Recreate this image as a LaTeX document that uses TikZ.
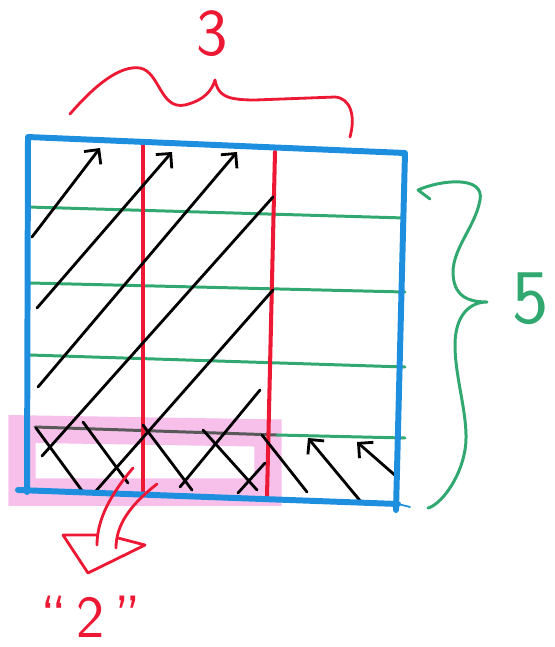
\documentclass[tikz,border=0pt]{standalone}
\usepackage{tikz}
\usetikzlibrary{arrows.meta}
\definecolor{gridblue}{RGB}{30,142,222}
\definecolor{gridred}{RGB}{236,24,52}
\definecolor{gridgreen}{RGB}{48,168,112}
\definecolor{markpink}{RGB}{238,130,215}

\begin{document}
\begin{tikzpicture}[x=0.02cm, y=-0.02cm,
      pen/.style={line cap=round, line join=round},
      bluepen/.style={pen, draw=gridblue, line width=3.4pt},
      redpen/.style={pen, draw=gridred, line width=2pt},
      greenpen/.style={pen, draw=gridgreen, line width=1.7pt},
      hatch/.style={pen, draw=black, line width=1.6pt},
      marker/.style={draw=markpink, line width=0.55cm, opacity=0.5},
      digit/.style={inner sep=0pt, font=\sffamily\fontsize{38}{38}\selectfont}
    ]
      \useasboundingbox (0,0) rectangle (555,647);

      % highlighted bottom row
      \draw[marker] (22,429) -- (268,433) -- (268,492) -- (22,492) -- cycle;

      % rows
      \draw[greenpen] (28,207) -- (405,218);
      \draw[greenpen] (30,283) -- (405,292);
      \draw[greenpen] (30,355) -- (405,367);
      \draw[greenpen, draw=gray!70!black] (35,427) -- (277,435);
      \draw[greenpen] (277,435) -- (405,438);

      % columns
      \draw[redpen, line width=2.3pt] (143,143) -- (143,492);
      \draw[redpen, line width=2.3pt] (275,152) -- (267,497);

      % shading
      \draw[hatch, -{Straight Barb[length=6pt]}] (32,237) -- (100,148);
      \draw[hatch, -{Straight Barb[length=6pt]}] (37,308) -- (172,152);
      \draw[hatch, -{Straight Barb[length=6pt]}] (38,387) -- (237,152);
      \draw[hatch] (42,456) -- (273,197);
      \draw[hatch] (95,492) -- (273,290);
      \draw[hatch] (180,487) -- (260,390);
      \draw[hatch] (238,493) -- (265,463);
      \draw[hatch] (36,428) -- (83,492);
      \draw[hatch] (83,422) -- (128,483);
      \draw[hatch] (143,425) -- (192,490);
      \draw[hatch] (203,430) -- (257,490);
      \draw[hatch] (262,435) -- (307,492);
      \draw[hatch, -{Straight Barb[length=6pt]}] (362,503) -- (308,438);
      \draw[hatch, -{Straight Barb[length=6pt]}] (397,477) -- (357,442);

      % outline
      \draw[bluepen] (27,492) -- (28,137) -- (405,153) -- (396,510);
      \draw[bluepen] (18,490) -- (398,504);
      \draw[pen, draw=gridblue, line width=1pt] (398,504) -- (410,507);

      % brace over the columns
      \draw[redpen, line width=1.6pt] (70,114) .. controls (95,85) and (120,65) .. (140,68)
        .. controls (160,72) and (160,110) .. (185,105)
        .. controls (205,100) and (212,90) .. (215,80)
        .. controls (218,95) and (225,100) .. (255,100)
        -- (335,97) .. controls (350,98) and (356,115) .. (350,137);
      \node[digit, text=gridred] (three) at (212,34) {3};

      % brace beside the rows
      \draw[greenpen] (430,199) -- (418,190)
        .. controls (440,180) and (485,175) .. (480,200)
        .. controls (475,230) and (445,255) .. (455,285)
        .. controls (460,300) and (475,302) .. (487,302)
        .. controls (470,302) and (455,315) .. (455,345)
        .. controls (455,380) and (470,420) .. (465,450)
        .. controls (460,480) and (440,505) .. (428,508);
      \node[digit, text=gridgreen, font=\sffamily\fontsize{44}{44}\selectfont] (five) at (531,299) {5};

      % hollow arrow to the answer
      \draw[redpen, line width=1.6pt] (133,468) .. controls (110,495) and (97,520) .. (97,545);
      \draw[redpen, line width=1.6pt] (157,484) .. controls (130,505) and (116,525) .. (116,548);
      \draw[redpen, line width=1.6pt] (97,535) -- (63,535) -- (88,573) -- (145,545) -- (118,538);
      \node[digit, text=gridred, font=\sffamily\fontsize{34}{34}\selectfont] (two) at (91,617) {``\,2\,''};
    \end{tikzpicture}
\end{document}
